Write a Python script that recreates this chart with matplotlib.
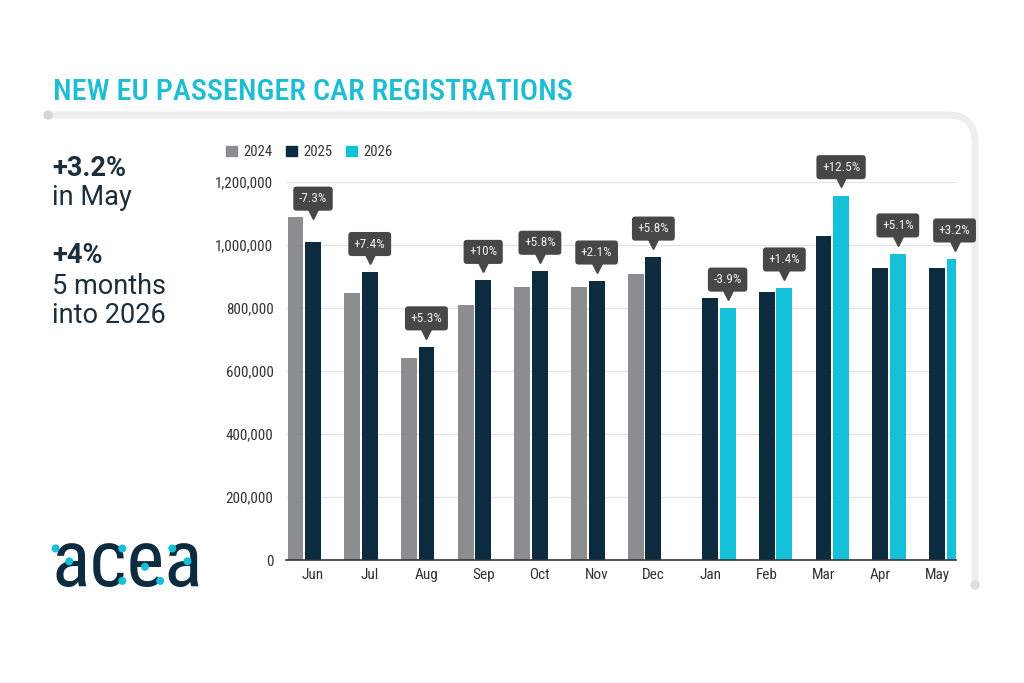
import numpy as np
import matplotlib
matplotlib.use("Agg")
import matplotlib.pyplot as plt
from matplotlib import font_manager
from matplotlib.path import Path
from matplotlib.patches import PathPatch, Circle, Patch
from matplotlib.ticker import FuncFormatter
from matplotlib.transforms import offset_copy

# Data
months = ["Jun", "Jul", "Aug", "Sep", "Oct", "Nov", "Dec",
          "Jan", "Feb", "Mar", "Apr", "May"]
nan = np.nan
reg_2024 = [1089000, 849000, 642000, 808000, 867000, 867000, 909000,
            nan, nan, nan, nan, nan]
reg_2025 = [1010000, 913000, 677000, 888000, 917000, 886000, 962000,
            832000, 852000, 1029000, 927000, 927000]
reg_2026 = [nan, nan, nan, nan, nan, nan, nan,
            800000, 864000, 1157000, 972000, 956000]
changes = ["-7.3%", "+7.4%", "+5.3%", "+10%", "+5.8%", "+2.1%", "+5.8%",
           "-3.9%", "+1.4%", "+12.5%", "+5.1%", "+3.2%"]
years = ["2024", "2025", "2026"]

# Style
GRAY = "#8b8d8f"
NAVY = "#0c2b3f"
CYAN = "#14c1d8"
TITLE_CYAN = "#1dbdd4"
TEXT_DARK = "#1c2e3c"
BOX = "#474747"


def has_font(name):
    try:
        font_manager.findfont(font_manager.FontProperties(family=name),
                              fallback_to_default=False)
        return True
    except Exception:
        return False


NARROW = [f for f in ["Roboto Condensed", "Liberation Sans Narrow", "Roboto"]
          if has_font(f)] + ["DejaVu Sans"]
plt.rcParams["font.family"] = ["Roboto", "DejaVu Sans"]

W, H = 1024, 683
fig = plt.figure(figsize=(W / 100, H / 100), dpi=100)
fig.patch.set_facecolor("white")
renderer = fig.canvas.get_renderer()


def fit_width(txt, target_px):
    # shrink or grow a text so that it spans target_px
    bb = txt.get_window_extent(renderer)
    txt.set_fontsize(txt.get_fontsize() * target_px / bb.width)


# background layer in pixel coords (frame, logo)
bg = fig.add_axes([0, 0, 1, 1], zorder=0)
bg.set_xlim(0, W)
bg.set_ylim(H, 0)
bg.axis("off")

frame = Path([(48, 115), (948, 115), (975, 115), (975, 142), (975, 585)],
             [Path.MOVETO, Path.LINETO, Path.CURVE3, Path.CURVE3, Path.LINETO])
bg.add_patch(PathPatch(frame, fill=False, ec="#eeeeee", lw=5, capstyle="round"))
bg.add_patch(Circle((48, 115), 4, color="#d6d6d6"))
bg.add_patch(Circle((975, 585), 4, color="#dedede"))

title = fig.text(53 / W, 1 - 100 / H, "NEW EU PASSENGER CAR REGISTRATIONS",
                 family=NARROW, fontsize=22, fontweight="medium",
                 color=TITLE_CYAN, va="baseline")
fit_width(title, 518)

# left side highlights
fig.text(52 / W, 1 - 176 / H, "+3.2%", fontsize=19.5, fontweight="bold",
         color=TEXT_DARK, va="baseline")
fig.text(52 / W, 1 - 205 / H, "in May", fontsize=19.5, color=TEXT_DARK,
         va="baseline")
fig.text(52 / W, 1 - 263 / H, "+4%", fontsize=19.5, fontweight="bold",
         color=TEXT_DARK, va="baseline")
fig.text(52 / W, 1 - 294 / H, "5 months", fontsize=19.5, color=TEXT_DARK,
         va="baseline")
fig.text(52 / W, 1 - 323 / H, "into 2026", fontsize=19.5, color=TEXT_DARK,
         va="baseline")

# acea logo: letters fitted to the logo box, cyan dots placed relative to it
logo = bg.text(51, 586, "acea", family=NARROW, fontsize=60,
               fontweight="normal", color=NAVY, va="baseline", ha="left")
fit_width(logo, 152)
lb = logo.get_window_extent(renderer)
fs_px = logo.get_fontsize() * 100 / 72
ybot = 586
ytop = ybot - 0.53 * fs_px
# dot positions as fractions of the logo box (x from left, y from top)
dots = [(0.03, 0.12), (0.12, 0.42), (0.47, 0.12), (0.47, 0.88),
        (0.62, 0.55), (0.72, 0.88), (0.80, 0.12), (0.90, 0.42)]
x0, x1 = lb.x0, lb.x1
for fx, fy in dots:
    bg.add_patch(Circle((x0 + fx * (x1 - x0), ytop + fy * (ybot - ytop)),
                        3.3, color=CYAN, zorder=3))

# main chart
ax = fig.add_axes([286 / W, 1 - 560 / H, (956 - 286) / W, (560 - 182) / H],
                  zorder=1)
ax.set_facecolor("none")
x = np.arange(len(months))
slot = 0.309
width = 0.28
ax.bar(x - slot, reg_2024, width, color=GRAY, zorder=2)
ax.bar(x, reg_2025, width, color=NAVY, zorder=2)
ax.bar(x + slot, reg_2026, width, color=CYAN, zorder=2)

ax.set_xlim(-0.476, len(months) - 1 + 0.335)
ax.set_ylim(0, 1200000)
ax.set_yticks(np.arange(0, 1200001, 200000))
ax.yaxis.set_major_formatter(FuncFormatter(lambda v, p: f"{v:,.0f}"))
ax.set_xticks(x)
ax.set_xticklabels(months)
ax.grid(axis="y", color="#e3e3e3", lw=0.9, zorder=0)
for s in ["top", "right", "left"]:
    ax.spines[s].set_visible(False)
ax.spines["bottom"].set_color("#333333")
ax.spines["bottom"].set_linewidth(1.2)
ax.spines["bottom"].set_zorder(3)
ax.tick_params(axis="y", length=0, pad=9, labelsize=10.8, labelcolor="#333333")
ax.tick_params(axis="x", length=0, pad=6, labelsize=11, labelcolor="#333333")
for lab in ax.get_xticklabels() + ax.get_yticklabels():
    lab.set_family(NARROW)

# change labels above the newest bar of each month
ptr = offset_copy(ax.transData, fig=fig, x=0, y=3, units="dots")
for i, lab in enumerate(changes):
    if np.isnan(reg_2026[i]):
        new, old, xi = reg_2025[i], reg_2024[i], x[i]
    else:
        new, old, xi = reg_2026[i], reg_2025[i], x[i] + slot
    tip = max(new + 32000, old)
    ax.plot(xi, tip, marker="v", ms=6.5, color=BOX, transform=ptr,
            clip_on=False, zorder=4)
    ax.annotate(lab, xy=(xi, tip), xytext=(0, 8.5), textcoords="offset points",
                ha="center", va="bottom", fontsize=9.5, color="#f0f0f0",
                family=NARROW, annotation_clip=False, zorder=5,
                bbox=dict(boxstyle="round,pad=0.42,rounding_size=0.25",
                          fc=BOX, ec="none"))

handles = [Patch(color=c) for c in (GRAY, NAVY, CYAN)]
leg = fig.legend(handles, years, loc="center left",
                 bbox_to_anchor=(213 / W, 1 - 152 / H), ncol=3, frameon=False,
                 fontsize=10.5, handlelength=0.75, handleheight=0.75,
                 handletextpad=0.45, columnspacing=0.9, labelcolor="#333333")
for t in leg.get_texts():
    t.set_family(NARROW)

fig.savefig("out.png", dpi=100, facecolor="white")
